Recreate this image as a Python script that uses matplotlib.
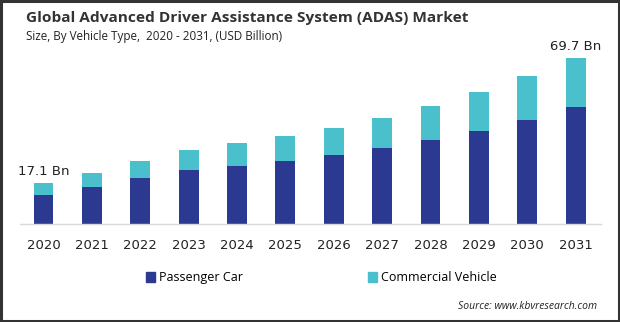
import matplotlib.pyplot as plt
from matplotlib.patches import Rectangle, Patch

# ADAS market size by vehicle type, USD billion
years = ['2020', '2021', '2022', '2023', '2024', '2025',
         '2026', '2027', '2028', '2029', '2030', '2031']
passenger_car = [12.3, 15.5, 19.3, 22.7, 24.4, 26.5, 29.0, 31.9, 35.3, 39.1, 43.7, 49.2]
commercial_vehicle = [4.8, 5.9, 7.2, 8.4, 9.6, 10.5, 11.3, 12.6, 14.3, 16.4, 18.5, 20.5]
end_labels = {0: '17.1 Bn', 11: '69.7 Bn'}

navy = '#2b3990'
cyan = '#4bc0cd'

fig = plt.figure(figsize=(6.2, 3.22), dpi=100)
ax = fig.add_axes([0.032, 0.304, 0.937, 0.572])

x = list(range(len(years)))
ax.bar(x, passenger_car, width=0.41, color=navy)
ax.bar(x, commercial_vehicle, width=0.41, bottom=passenger_car, color=cyan)

for i, txt in end_labels.items():
    total = passenger_car[i] + commercial_vehicle[i]
    ax.text(i, total + 2.2, txt, ha='center', va='bottom',
            fontsize=9.5, color='#222222', family='DejaVu Sans')

ax.set_xlim(-0.49, 11.52)
ax.set_ylim(0, 77.3)
ax.set_xticks(x)
ax.set_xticklabels(years, fontsize=9.5, color='#222222', family='DejaVu Sans')
ax.tick_params(axis='x', length=0, pad=11)
ax.set_yticks([])
for side in ['top', 'right', 'left']:
    ax.spines[side].set_visible(False)
ax.spines['bottom'].set_color('#d9d9d9')
ax.spines['bottom'].set_linewidth(1.0)

fig.text(0.042, 0.945, 'Global Advanced Driver Assistance System (ADAS) Market',
         fontsize=11.1, fontweight='bold', color='#333333', family='Open Sans',
         va='center')
fig.text(0.042, 0.888, 'Size, By Vehicle Type,  2020 - 2031, (USD Billion)',
         fontsize=8.4, color='#222222', family='Open Sans', va='center')

handles = [Patch(color=navy, label='Passenger Car'),
           Patch(color=cyan, label='Commercial Vehicle')]
fig.legend(handles=handles, loc='center left', bbox_to_anchor=(0.217, 0.137),
           ncol=2, frameon=False, handlelength=0.75, handleheight=0.75,
           handletextpad=0.3, columnspacing=10.0,
           prop={'family': 'Open Sans', 'size': 9})

fig.text(0.963, 0.047, 'Source: www.kbvresearch.com', fontsize=7.5,
         style='italic', color='#222222', family='Open Sans',
         ha='right', va='center')

# dark frame around the whole figure
fig.patches.append(Rectangle((0.002, 0.003), 0.996, 0.994, transform=fig.transFigure,
                             fill=False, edgecolor='#333333', linewidth=2.2))

fig.savefig('out.png', dpi=100)
